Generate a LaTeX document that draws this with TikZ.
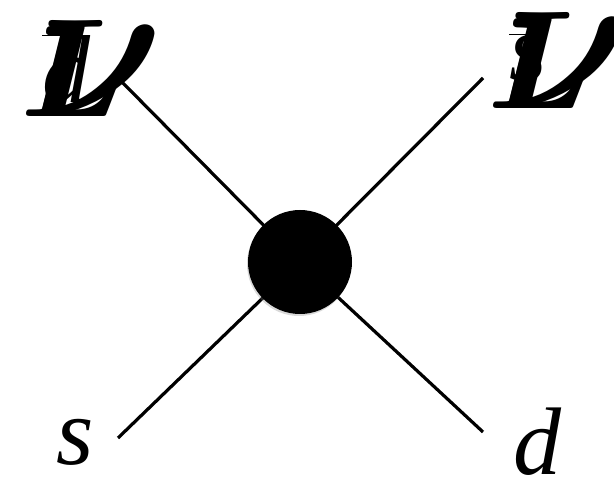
\documentclass[tikz,border=0pt]{standalone}
\usepackage{fontspec}
\setmainfont{Liberation Serif}
\usetikzlibrary{positioning, shadows}

\begin{document}
\begin{tikzpicture}[
  x=1pt, y=1pt,
  leg/.style={line width=3.2pt},
  vtx/.style={circle, fill=black, minimum size=104pt, inner sep=0pt,
    drop shadow={shadow xshift=-1pt, shadow yshift=-2pt, opacity=0.3}},
  lbl/.style={inner sep=0pt, font=\fontsize{96}{96}\selectfont\itshape},
  big/.style={inner sep=0pt, scale=14, transform shape, font=\boldmath},
]
  \useasboundingbox (0,0) rectangle (614,493);

  % free ends of the legs
  \coordinate (tl) at (118,415);
  \coordinate (tr) at (483,415);
  \coordinate (bl) at (118,55);
  \coordinate (br) at (483,61);

  % the vertex
  \draw[leg] (tl) -- (300,231);
  \draw[leg] (tr) -- (300,231);
  \draw[leg] (bl) -- (300,231);
  \draw[leg] (br) -- (300,231);
  \node[vtx] (v) at (300,231) {};

  % labels
  \node[lbl, anchor=base] (s) at (75,28) {s};
  \node[lbl, anchor=base] (d) at (537,18) {d};

  \node[big, anchor=base west] (ltl) at (18,376) {$L$};
  \node[big, anchor=base west, scale=1.45] (ntl) at (28,376) {$\nu$};
  \node[lbl, anchor=base] (dbar) at (66,390) {$\overline{\mbox{\itshape d}\vphantom{l}}$};

  \node[big, anchor=base west] (ltr) at (485,384) {$L$};
  \node[big, anchor=base west, scale=1.45] (ntr) at (495,384) {$\nu$};
  \node[lbl, anchor=base] (sbar) at (528,412) {$\overline{\mbox{\itshape s}}$};
\end{tikzpicture}
\end{document}
